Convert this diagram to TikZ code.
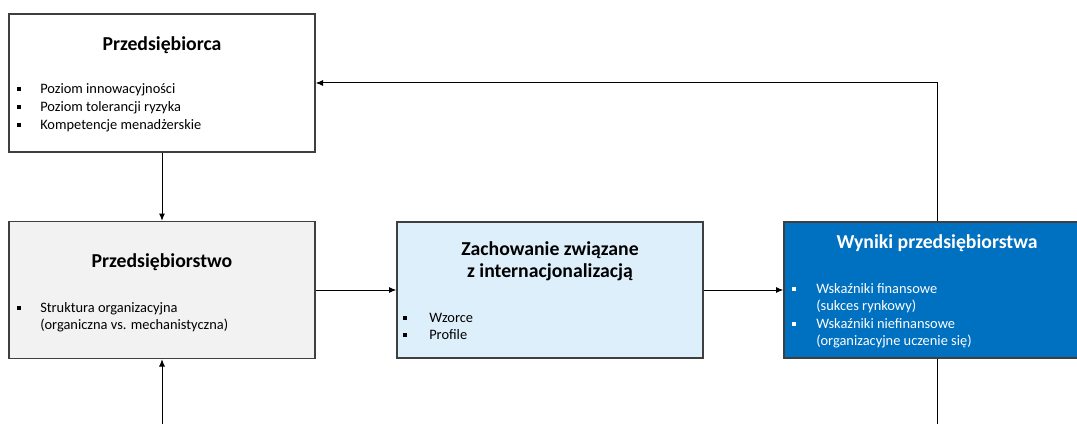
\documentclass[tikz,border=0pt]{standalone}
\usepackage{fontspec}
\setmainfont{Carlito}
\usetikzlibrary{arrows.meta}
\definecolor{boxline}{HTML}{3F3F3F}
\definecolor{grayfill}{HTML}{F2F2F2}
\definecolor{lightblue}{HTML}{DEEFFC}
\definecolor{darkblue}{HTML}{0070C0}
\tikzset{
  box/.style={draw=boxline, line width=1pt, inner sep=0pt, minimum width=229.5pt},
  ttl/.style={font=\fontsize{14.8}{17}\selectfont\bfseries, anchor=base, inner sep=0pt},
  itm/.style={font=\fontsize{10.8}{13}\selectfont, anchor=base west, inner sep=0pt},
  bul/.style={fill=black, inner sep=0pt, minimum size=3pt},
  conn/.style={draw=black, line width=0.75pt},
  arr/.style={conn, -{Latex[length=5.5pt,width=4.5pt]}},
}
\begin{document}
\begin{tikzpicture}[x=0.75pt,y=-0.75pt]
\useasboundingbox (0,0) rectangle (1077,424);
\clip (0,0) rectangle (1077,424);
\fill[white] (0,0) rectangle (1077,424);
% boxes
\node[box, fill=white, minimum height=103.5pt] (b1) at (162,83) {};
\node[box, fill=grayfill, minimum height=102.75pt] (b2) at (162,290) {};
\node[box, fill=lightblue, minimum height=102pt] (b3) at (550,290) {};
\node[box, fill=darkblue, minimum height=102pt] (b4) at (937,290) {};
% box 1 text
\node[ttl] (t1) at (162,51) {Przedsiębiorca};
\node[bul] (p1a) at (19,89.5) {};
\node[itm] (i1a) at (40,94) {Poziom innowacyjności};
\node[bul] (p1b) at (19,107.5) {};
\node[itm] (i1b) at (40,112) {Poziom tolerancji ryzyka};
\node[bul] (p1c) at (19,125.5) {};
\node[itm] (i1c) at (40,130) {Kompetencje menadżerskie};
% box 2 text
\node[ttl] (t2) at (162,267) {Przedsiębiorstwo};
\node[bul] (p2a) at (19,307.5) {};
\node[itm] (i2a) at (40,312) {Struktura organizacyjna};
\node[itm] (i2b) at (40,329.5) {(organiczna vs. mechanistyczna)};
% box 3 text
\node[ttl] (t3a) at (550,255.5) {Zachowanie związane};
\node[ttl] (t3b) at (550,277) {z internacjonalizacją};
\node[bul] (p3a) at (405,317.5) {};
\node[itm] (i3a) at (429,322) {Wzorce};
\node[bul] (p3b) at (405,335) {};
\node[itm] (i3b) at (429,339.5) {Profile};
% box 4 text
\node[ttl, text=white] (t4) at (937,248.5) {Wyniki przedsiębiorstwa};
\node[bul, fill=white] (p4a) at (794,288.5) {};
\node[itm, text=white] (i4a) at (816,293) {Wskaźniki finansowe};
\node[itm, text=white] (i4b) at (816,310.5) {(sukces rynkowy)};
\node[bul, fill=white] (p4b) at (794,323.5) {};
\node[itm, text=white] (i4c) at (816,328) {Wskaźniki niefinansowe};
\node[itm, text=white] (i4d) at (816,345.5) {(organizacyjne uczenie się)};
% connectors
\coordinate (inb) at (162,440);
\coordinate (outb) at (937,440);
\draw[arr] (b1.south) -- (b2.north);
\draw[arr] (inb) -- (b2.south);
\draw[arr] (b2.east) -- (b3.west);
\draw[arr] (b3.east) -- (b4.west);
\draw[arr] (b4.north) |- (b1.east);
\draw[conn] (b4.south) -- (outb);
\end{tikzpicture}
\end{document}
